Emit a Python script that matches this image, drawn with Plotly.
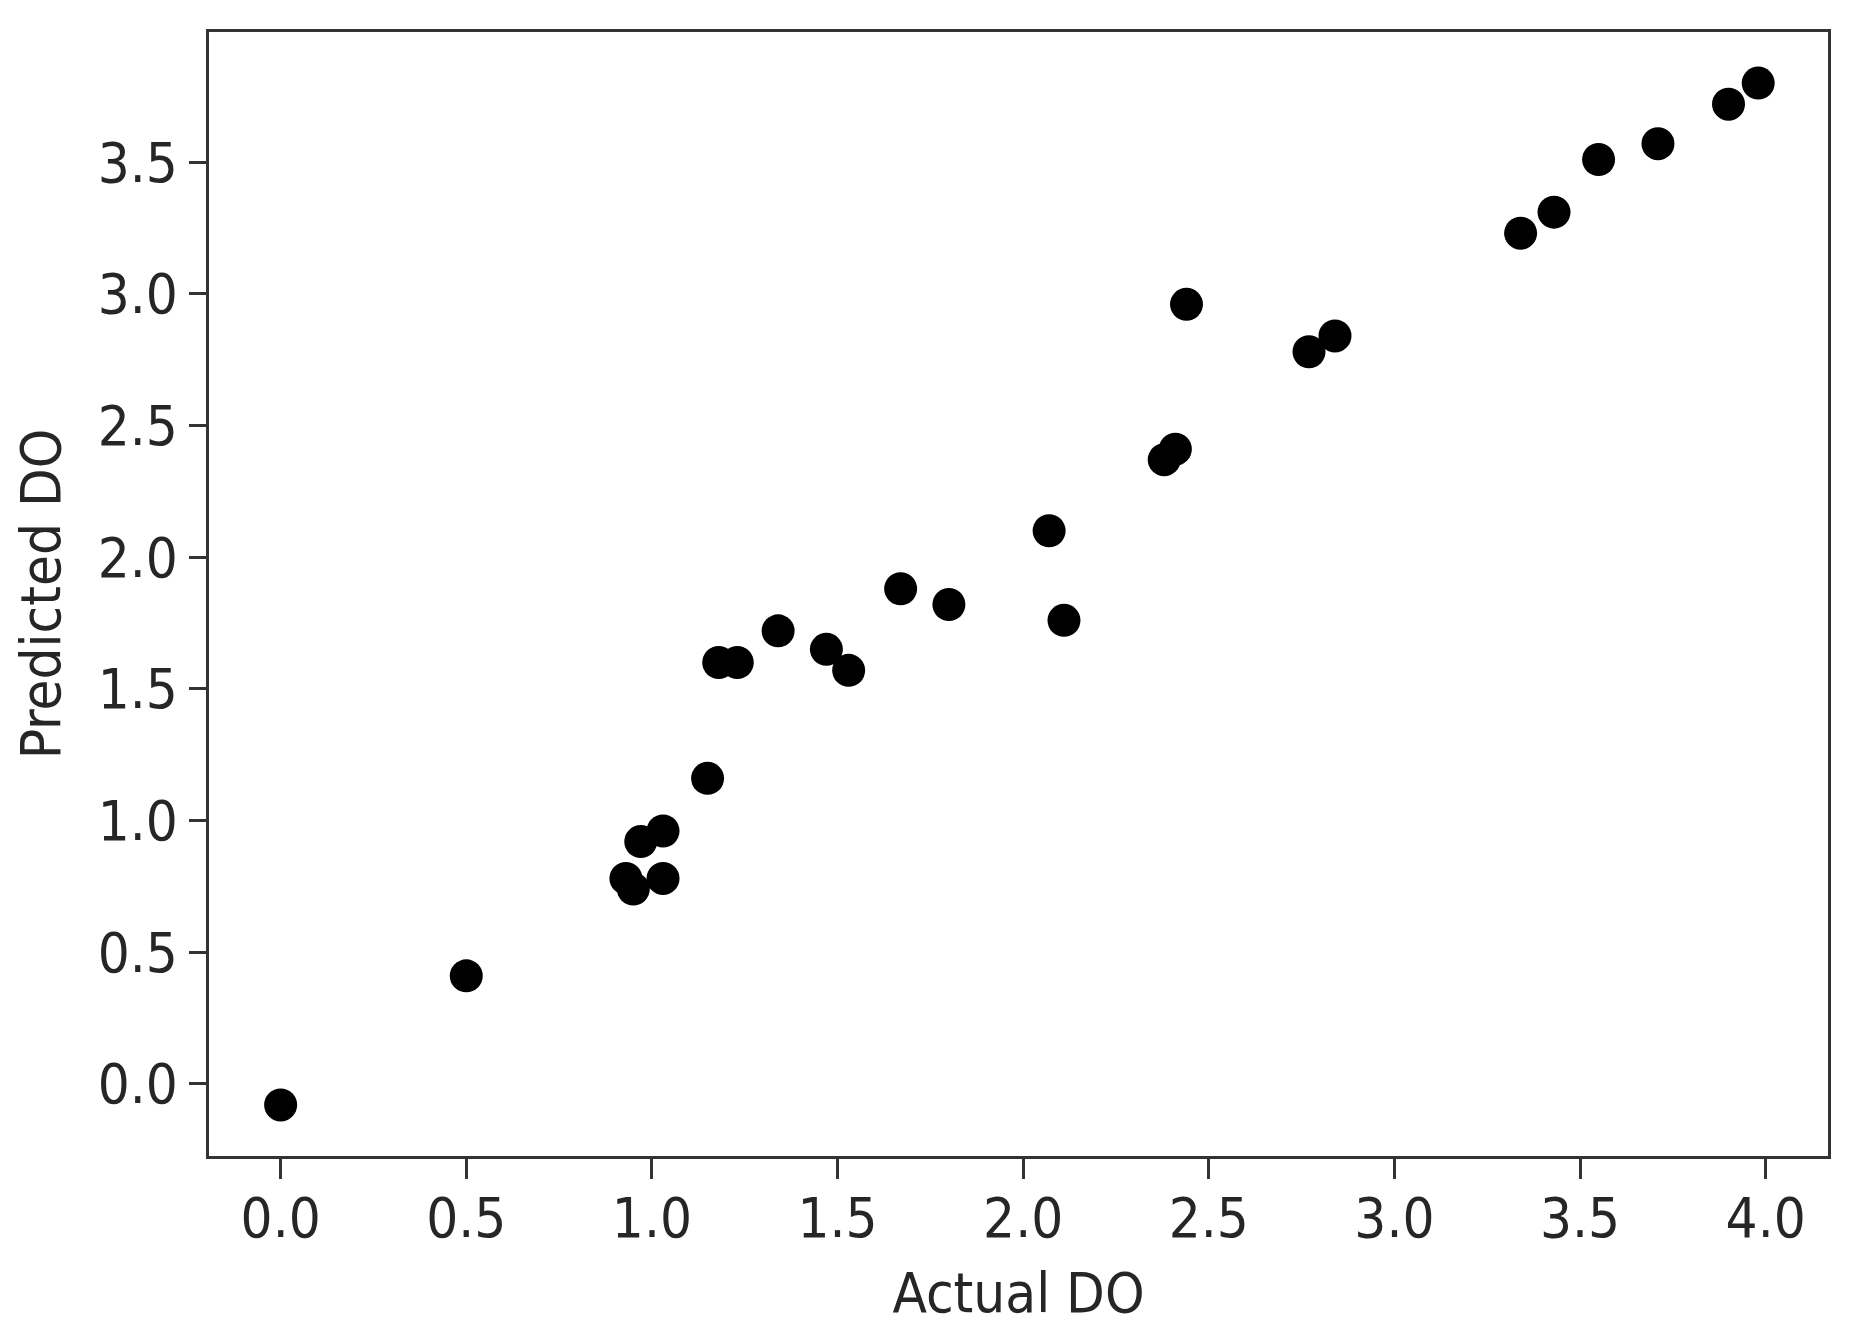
import plotly.graph_objects as go

# actual vs predicted dissolved oxygen
actual_do = [0.00, 0.50, 0.93, 0.95, 0.97, 1.03, 1.03, 1.15, 1.18, 1.23,
             1.34, 1.47, 1.53, 1.67, 1.80, 2.07, 2.11, 2.38, 2.41, 2.44,
             2.77, 2.84, 3.34, 3.43, 3.55, 3.71, 3.90, 3.98]
predicted_do = [-0.08, 0.41, 0.78, 0.74, 0.92, 0.96, 0.78, 1.16, 1.60, 1.60,
                1.72, 1.65, 1.57, 1.88, 1.82, 2.10, 1.76, 2.37, 2.41, 2.96,
                2.78, 2.84, 3.23, 3.31, 3.51, 3.57, 3.72, 3.80]

x_ticks = [0.0, 0.5, 1.0, 1.5, 2.0, 2.5, 3.0, 3.5, 4.0]
y_ticks = [0.0, 0.5, 1.0, 1.5, 2.0, 2.5, 3.0, 3.5]

FONT = "DejaVu Sans Condensed, Liberation Sans Narrow, DejaVu Sans"
AXIS_COLOR = "#333333"
TEXT_COLOR = "#262626"

fig = go.Figure()
fig.add_trace(
    go.Scatter(
        x=actual_do,
        y=predicted_do,
        mode="markers",
        marker=dict(color="black", size=33, line=dict(width=0)),
        showlegend=False,
    )
)

axis_style = dict(
    showgrid=False,
    zeroline=False,
    showline=True,
    mirror=True,
    linecolor=AXIS_COLOR,
    linewidth=3,
    ticks="outside",
    tickwidth=3,
    tickcolor=AXIS_COLOR,
    tickformat=".1f",
    tickfont=dict(family=FONT, size=56, color=TEXT_COLOR),
)

fig.update_xaxes(
    **axis_style,
    range=[-0.193, 4.168],
    tickvals=x_ticks,
    ticklen=20,
    ticklabelstandoff=-9,
    title=dict(text="Actual DO", font=dict(family=FONT, size=56, color=TEXT_COLOR), standoff=24),
)
fig.update_yaxes(
    **axis_style,
    range=[-0.274, 3.994],
    tickvals=y_ticks,
    ticklen=17,
    title=dict(text="Predicted DO", font=dict(family=FONT, size=56, color=TEXT_COLOR), standoff=20),
)

# the page body adds 8px, so margins are shifted to keep the frame in place
fig.update_layout(
    width=1849,
    height=1330,
    autosize=False,
    margin=dict(l=201, r=29, t=24, b=182),
    paper_bgcolor="white",
    plot_bgcolor="white",
    font=dict(family=FONT),
)

fig.write_html("out.html")
